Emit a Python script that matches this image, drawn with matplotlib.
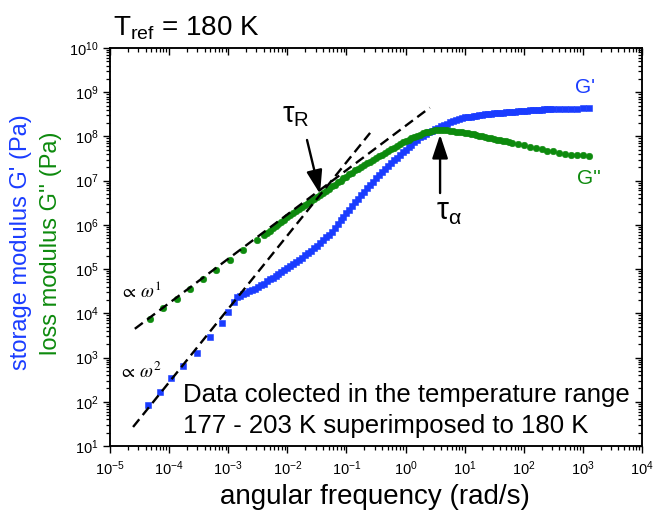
#!/usr/bin/env python3
"""Master curve of G' and G'' vs angular frequency (Tref = 180 K)."""

import sys

import numpy as np
import matplotlib
matplotlib.use("Agg")
import matplotlib.pyplot as plt
from matplotlib.ticker import LogLocator, FixedLocator, NullFormatter

# ---------------------------------------------------------------------------
# Data (log10 of omega in rad/s, log10 of modulus in Pa)
# ---------------------------------------------------------------------------
log_w_storage = [
    -4.35, -4.15, -3.96, -3.76, -3.53, -3.31, -3.11, -3.00, -2.90, -2.85,
    -2.80, -2.75, -2.70, -2.65, -2.60, -2.55, -2.50, -2.45, -2.40, -2.35,
    -2.30, -2.25, -2.20, -2.15, -2.10, -2.05, -2.00, -1.95, -1.90, -1.85,
    -1.80, -1.75, -1.70, -1.65, -1.60, -1.55, -1.50, -1.45, -1.40, -1.35,
    -1.30, -1.25, -1.20, -1.15, -1.10, -1.05, -1.00, -0.95, -0.90, -0.85,
    -0.80, -0.75, -0.70, -0.65, -0.60, -0.55, -0.50, -0.45, -0.40, -0.35,
    -0.30, -0.25, -0.20, -0.15, -0.10, -0.05, 0.00, 0.05, 0.10, 0.15,
    0.20, 0.25, 0.30, 0.35, 0.40, 0.45, 0.50, 0.55, 0.60, 0.65,
    0.70, 0.75, 0.80, 0.85, 0.90, 0.95, 1.00, 1.05, 1.10, 1.15,
    1.20, 1.25, 1.30, 1.35, 1.40, 1.45, 1.50, 1.55, 1.60, 1.65,
    1.70, 1.75, 1.80, 1.85, 1.90, 1.95, 2.00, 2.05, 2.10, 2.15,
    2.20, 2.25, 2.30, 2.35, 2.40, 2.45, 2.50, 2.60, 2.70, 2.80,
    2.90, 3.00, 3.10,
]
log_g_storage = [
    1.93, 2.23, 2.53, 2.80, 3.10, 3.47, 3.78, 4.03, 4.25, 4.36,
    4.40, 4.43, 4.46, 4.50, 4.52, 4.55, 4.59, 4.63, 4.67, 4.72,
    4.77, 4.81, 4.85, 4.89, 4.93, 4.98, 5.02, 5.06, 5.11, 5.16,
    5.21, 5.26, 5.31, 5.36, 5.41, 5.47, 5.53, 5.60, 5.66, 5.72,
    5.78, 5.85, 5.93, 6.01, 6.10, 6.18, 6.26, 6.34, 6.42, 6.51,
    6.59, 6.67, 6.75, 6.83, 6.91, 6.98, 7.05, 7.12, 7.19, 7.26,
    7.33, 7.40, 7.46, 7.52, 7.58, 7.64, 7.70, 7.76, 7.81, 7.87,
    7.93, 7.98, 8.02, 8.06, 8.10, 8.13, 8.16, 8.20, 8.23, 8.26,
    8.29, 8.32, 8.35, 8.38, 8.40, 8.42, 8.43, 8.44, 8.45, 8.46,
    8.47, 8.48, 8.49, 8.50, 8.51, 8.51, 8.52, 8.53, 8.54, 8.54,
    8.55, 8.55, 8.56, 8.56, 8.57, 8.57, 8.58, 8.58, 8.59, 8.59,
    8.60, 8.60, 8.60, 8.61, 8.61, 8.61, 8.62, 8.62, 8.62, 8.63,
    8.63, 8.64, 8.64,
]

log_w_loss = [
    -4.32, -4.10, -3.87, -3.65, -3.42, -3.20, -2.97, -2.75, -2.52, -2.40,
    -2.35, -2.30, -2.25, -2.20, -2.15, -2.10, -2.05, -2.00, -1.95, -1.90,
    -1.85, -1.80, -1.75, -1.70, -1.65, -1.60, -1.55, -1.50, -1.45, -1.40,
    -1.35, -1.30, -1.25, -1.20, -1.15, -1.10, -1.05, -1.00, -0.95, -0.90,
    -0.85, -0.80, -0.75, -0.70, -0.65, -0.60, -0.55, -0.50, -0.45, -0.40,
    -0.35, -0.30, -0.25, -0.20, -0.15, -0.10, -0.05, 0.00, 0.05, 0.10,
    0.15, 0.20, 0.25, 0.30, 0.35, 0.40, 0.45, 0.50, 0.55, 0.60,
    0.65, 0.70, 0.75, 0.80, 0.85, 0.90, 0.95, 1.00, 1.05, 1.10,
    1.15, 1.20, 1.25, 1.30, 1.35, 1.40, 1.45, 1.50, 1.55, 1.60,
    1.65, 1.70, 1.75, 1.80, 1.90, 2.00, 2.10, 2.20, 2.30, 2.40,
    2.50, 2.60, 2.70, 2.80, 2.90, 3.00, 3.10,
]
log_g_loss = [
    3.88, 4.11, 4.33, 4.55, 4.77, 4.99, 5.21, 5.43, 5.65, 5.77,
    5.82, 5.87, 5.92, 5.97, 6.02, 6.07, 6.12, 6.17, 6.22, 6.26,
    6.31, 6.36, 6.41, 6.45, 6.50, 6.54, 6.59, 6.63, 6.68, 6.73,
    6.77, 6.82, 6.87, 6.91, 6.96, 7.00, 7.05, 7.09, 7.14, 7.18,
    7.23, 7.27, 7.31, 7.35, 7.39, 7.43, 7.47, 7.51, 7.55, 7.59,
    7.63, 7.67, 7.71, 7.75, 7.79, 7.83, 7.87, 7.90, 7.93, 7.96,
    7.99, 8.02, 8.04, 8.07, 8.09, 8.11, 8.13, 8.14, 8.15, 8.15,
    8.15, 8.14, 8.13, 8.12, 8.11, 8.10, 8.09, 8.08, 8.07, 8.06,
    8.05, 8.04, 8.02, 8.00, 7.99, 7.97, 7.96, 7.94, 7.93, 7.92,
    7.90, 7.89, 7.87, 7.86, 7.83, 7.80, 7.77, 7.74, 7.71, 7.68,
    7.66, 7.63, 7.61, 7.59, 7.58, 7.57, 7.56,
]

# guide lines (end points, log10 units)
slope1_log_w = [-4.58, 0.41]
slope1_log_g = [3.65, 8.65]
slope2_log_w = [-4.61, -0.60]
slope2_log_g = [1.43, 8.08]

# arrows: (tail log w, tail log G) -> (head log w, head log G)
tau_r_arrow = [(-1.667, 7.92), (-1.447, 6.70)]
tau_a_arrow = [(0.584, 6.72), (0.584, 8.04)]

BLUE = "#1a3cff"
GREEN = "#0d8a0d"

plt.rcParams.update({
    "font.family": ["Liberation Sans", "DejaVu Sans"],
    "mathtext.default": "regular",
    "axes.linewidth": 1.1,
})

RECT = [110 / 654, 1 - 446 / 512, 532 / 654, 398 / 512]
XLIM = (1e-5, 1e4)
YLIM = (1e1, 1e10)
x_minor = [m * 10.0 ** e for e in range(-5, 4) for m in range(2, 10)]
y_minor = [m * 10.0 ** e for e in range(1, 10) for m in range(2, 10)]

fig = plt.figure(figsize=(6.54, 5.12), dpi=100)

# mirror frame: inward ticks on top and right only
mirror = fig.add_axes(RECT, label="mirror")
mirror.set_xscale("log")
mirror.set_yscale("log")
mirror.set_xlim(*XLIM)
mirror.set_ylim(*YLIM)
mirror.patch.set_visible(False)
mirror.xaxis.set_major_locator(LogLocator(base=10, numticks=20))
mirror.yaxis.set_major_locator(LogLocator(base=10, numticks=20))
mirror.xaxis.set_minor_locator(FixedLocator(x_minor))
mirror.yaxis.set_minor_locator(FixedLocator(y_minor))
mirror.tick_params(which="both", direction="in", bottom=False, left=False,
                   top=True, right=True, labelbottom=False, labelleft=False)
mirror.tick_params(which="major", length=5, width=1.0)
mirror.tick_params(which="minor", length=3, width=0.9)

ax = fig.add_axes(RECT)
ax.patch.set_visible(False)
ax.set_xscale("log")
ax.set_yscale("log")
ax.set_xlim(*XLIM)
ax.set_ylim(*YLIM)


def pw(v):
    return 10.0 ** np.asarray(v)


# dashed guide lines
for lw_, lg_ in ((slope1_log_w, slope1_log_g), (slope2_log_w, slope2_log_g)):
    ax.plot(pw(lw_), pw(lg_), color="k", lw=1.7, dashes=(4.2, 2.3), zorder=4)

# data
ax.plot(pw(log_w_storage), pw(log_g_storage), ls="none", marker="s",
        ms=4.5, mfc=BLUE, mec=BLUE, mew=0.4, zorder=3)
ax.plot(pw(log_w_loss), pw(log_g_loss), ls="none", marker="o",
        ms=4.7, mfc=GREEN, mec=GREEN, mew=0.4, zorder=3)

# arrows
for (tw, tg), (hw, hg) in (tau_r_arrow, tau_a_arrow):
    ax.annotate("", xy=(10 ** hw, 10 ** hg), xytext=(10 ** tw, 10 ** tg),
                arrowprops=dict(arrowstyle="-|>,head_length=0.9,head_width=0.3",
                                color="k", lw=1.7, mutation_scale=16,
                                shrinkA=0, shrinkB=0), zorder=5)

ax.text(10 ** -1.85, 10 ** 8.17, r"$\tau_{\mathregular{R}}$", fontsize=21,
        ha="center", va="bottom", math_fontfamily="dejavusans")
ax.text(10 ** 0.74, 10 ** 6.62, r"$\tau_{\alpha}$", fontsize=22,
        ha="center", va="top", math_fontfamily="dejavusans")

ax.text(10 ** 3.04, 10 ** 9.1, "G'", color=BLUE, fontsize=15,
        ha="center", va="center")
ax.text(10 ** 3.1, 10 ** 7.06, "G''", color=GREEN, fontsize=15,
        ha="center", va="center")

ax.text(10 ** -4.49, 10 ** 4.5, r"$\propto\,\mathit{\omega}^{\mathrm{1}}$",
        fontsize=13.5, ha="center", va="center", math_fontfamily="stix")
ax.text(10 ** -4.49, 10 ** 2.67, r"$\propto\,\mathit{\omega}^{\mathrm{2}}$",
        fontsize=13.5, ha="center", va="center", math_fontfamily="stix")

ax.text((183 - 110) / 532, (446 - 402) / 398,
        "Data colected in the temperature range",
        transform=ax.transAxes, fontsize=18.5, ha="left", va="baseline")
ax.text((183 - 110) / 532, (446 - 433) / 398,
        "177 - 203 K superimposed to 180 K",
        transform=ax.transAxes, fontsize=18.5, ha="left", va="baseline")

# ticks: outward on bottom/left
ax.xaxis.set_major_locator(LogLocator(base=10, numticks=20))
ax.yaxis.set_major_locator(LogLocator(base=10, numticks=20))
ax.xaxis.set_minor_locator(FixedLocator(x_minor))
ax.yaxis.set_minor_locator(FixedLocator(y_minor))
ax.xaxis.set_minor_formatter(NullFormatter())
ax.yaxis.set_minor_formatter(NullFormatter())
ax.tick_params(which="both", direction="out", top=False, right=False)
ax.tick_params(which="major", length=5, width=1.0, labelsize=10.5, pad=3)
ax.tick_params(which="minor", length=3, width=0.9)
ax.tick_params(axis="x", which="major", pad=5)

# labels
fig.text(113 / 654, 1 - 35 / 512, r"T$_{ref}$ = 180 K", fontsize=20,
         ha="left", va="baseline")
fig.text(375 / 654, 1 - 497 / 512, "angular frequency (rad/s)", fontsize=20,
         ha="center", va="center")
fig.text(21 / 654, 1 - 242 / 512, "storage modulus G' (Pa)", fontsize=17,
         color=BLUE, rotation=90, ha="center", va="center")
fig.text(51 / 654, 1 - 243 / 512, "loss modulus G'' (Pa)", fontsize=17,
         color=GREEN, rotation=90, ha="center", va="center")

fig.savefig("out.png", dpi=100)

# sanity check: a minor tick at omega = 2e-5 should darken pixels below the spine
img = plt.imread("out.png")
col = img[440:460, 126:131, :3].mean(axis=2).min(axis=1)
if col[7:10].min() > 0.8:
    sys.exit(f"minor tick missing: {np.round(col, 2).tolist()}")
